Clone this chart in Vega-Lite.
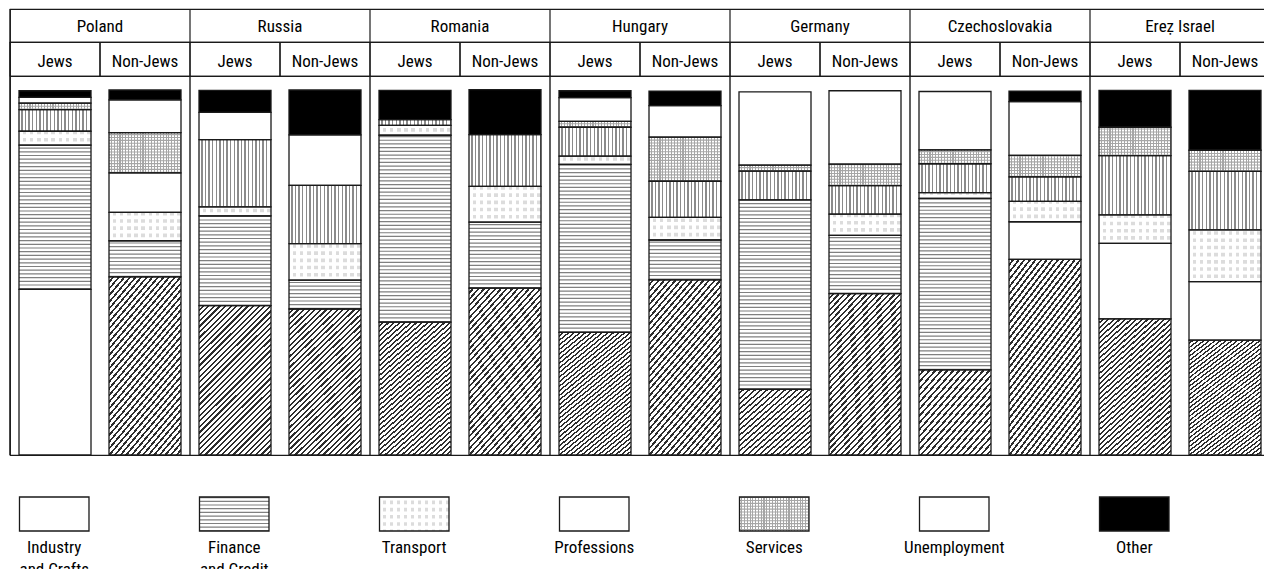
{
"$schema": "https://vega.github.io/schema/vega-lite/v6.json",
"padding": {"left": 8, "top": 7, "right": 0, "bottom": 0},
"background": "#ffffff",
"spacing": 5,
"datasets": {
"countries": [{"country":"Poland"},{"country":"Russia"},{"country":"Romania"},{"country":"Hungary"},{"country":"Germany"},{"country":"Czechoslovakia"},{"country":"Ereẓ Israel"}],
"groups": [
{"country":"Poland","group":"Jews"},{"country":"Poland","group":"Non-Jews"},
{"country":"Russia","group":"Jews"},{"country":"Russia","group":"Non-Jews"},
{"country":"Romania","group":"Jews"},{"country":"Romania","group":"Non-Jews"},
{"country":"Hungary","group":"Jews"},{"country":"Hungary","group":"Non-Jews"},
{"country":"Germany","group":"Jews"},{"country":"Germany","group":"Non-Jews"},
{"country":"Czechoslovakia","group":"Jews"},{"country":"Czechoslovakia","group":"Non-Jews"},
{"country":"Ereẓ Israel","group":"Jews"},{"country":"Ereẓ Israel","group":"Non-Jews"}],
"legend": [{"category":"Industry and Crafts"},{"category":"Finance and Credit"},{"category":"Transport"},{"category":"Professions"},{"category":"Services"},{"category":"Unemployment"},{"category":"Other"}],
"occ": [
{"country":"Poland","group":"Jews","category":"Industry and Crafts","value":45.4},
{"country":"Poland","group":"Jews","category":"Finance and Credit","value":39.5},
{"country":"Poland","group":"Jews","category":"Transport","value":3.8},
{"country":"Poland","group":"Jews","category":"Professions","value":5.9},
{"country":"Poland","group":"Jews","category":"Services","value":1.8},
{"country":"Poland","group":"Jews","category":"Unemployment","value":1.6},
{"country":"Poland","group":"Jews","category":"Other","value":1.8},
{"country":"Poland","group":"Non-Jews","category":"Industry and Crafts","value":48.8},
{"country":"Poland","group":"Non-Jews","category":"Finance and Credit","value":9.9},
{"country":"Poland","group":"Non-Jews","category":"Transport","value":7.8},
{"country":"Poland","group":"Non-Jews","category":"Professions","value":10.8},
{"country":"Poland","group":"Non-Jews","category":"Services","value":11.0},
{"country":"Poland","group":"Non-Jews","category":"Unemployment","value":9.0},
{"country":"Poland","group":"Non-Jews","category":"Other","value":2.7},
{"country":"Russia","group":"Jews","category":"Industry and Crafts","value":40.9},
{"country":"Russia","group":"Jews","category":"Finance and Credit","value":24.6},
{"country":"Russia","group":"Jews","category":"Transport","value":2.5},
{"country":"Russia","group":"Jews","category":"Professions","value":18.4},
{"country":"Russia","group":"Jews","category":"Unemployment","value":7.5},
{"country":"Russia","group":"Jews","category":"Other","value":6.0},
{"country":"Russia","group":"Non-Jews","category":"Industry and Crafts","value":40.0},
{"country":"Russia","group":"Non-Jews","category":"Finance and Credit","value":7.9},
{"country":"Russia","group":"Non-Jews","category":"Transport","value":10.0},
{"country":"Russia","group":"Non-Jews","category":"Professions","value":16.0},
{"country":"Russia","group":"Non-Jews","category":"Unemployment","value":13.8},
{"country":"Russia","group":"Non-Jews","category":"Other","value":12.3},
{"country":"Romania","group":"Jews","category":"Industry and Crafts","value":36.4},
{"country":"Romania","group":"Jews","category":"Finance and Credit","value":51.2},
{"country":"Romania","group":"Jews","category":"Transport","value":2.7},
{"country":"Romania","group":"Jews","category":"Professions","value":1.6},
{"country":"Romania","group":"Jews","category":"Other","value":8.0},
{"country":"Romania","group":"Non-Jews","category":"Industry and Crafts","value":45.7},
{"country":"Romania","group":"Non-Jews","category":"Finance and Credit","value":18.1},
{"country":"Romania","group":"Non-Jews","category":"Transport","value":9.8},
{"country":"Romania","group":"Non-Jews","category":"Professions","value":14.2},
{"country":"Romania","group":"Non-Jews","category":"Other","value":12.3},
{"country":"Hungary","group":"Jews","category":"Industry and Crafts","value":33.6},
{"country":"Hungary","group":"Jews","category":"Finance and Credit","value":46.0},
{"country":"Hungary","group":"Jews","category":"Transport","value":2.3},
{"country":"Hungary","group":"Jews","category":"Professions","value":7.9},
{"country":"Hungary","group":"Jews","category":"Services","value":1.6},
{"country":"Hungary","group":"Jews","category":"Unemployment","value":6.5},
{"country":"Hungary","group":"Jews","category":"Other","value":1.9},
{"country":"Hungary","group":"Non-Jews","category":"Industry and Crafts","value":48.0},
{"country":"Hungary","group":"Non-Jews","category":"Finance and Credit","value":10.9},
{"country":"Hungary","group":"Non-Jews","category":"Transport","value":6.2},
{"country":"Hungary","group":"Non-Jews","category":"Professions","value":9.9},
{"country":"Hungary","group":"Non-Jews","category":"Services","value":12.1},
{"country":"Hungary","group":"Non-Jews","category":"Unemployment","value":8.6},
{"country":"Hungary","group":"Non-Jews","category":"Other","value":4.0},
{"country":"Germany","group":"Jews","category":"Industry and Crafts","value":18.0},
{"country":"Germany","group":"Jews","category":"Finance and Credit","value":51.9},
{"country":"Germany","group":"Jews","category":"Professions","value":7.9},
{"country":"Germany","group":"Jews","category":"Services","value":1.6},
{"country":"Germany","group":"Jews","category":"Unemployment","value":20.1},
{"country":"Germany","group":"Non-Jews","category":"Industry and Crafts","value":44.2},
{"country":"Germany","group":"Non-Jews","category":"Finance and Credit","value":16.0},
{"country":"Germany","group":"Non-Jews","category":"Transport","value":5.8},
{"country":"Germany","group":"Non-Jews","category":"Professions","value":7.8},
{"country":"Germany","group":"Non-Jews","category":"Services","value":5.9},
{"country":"Germany","group":"Non-Jews","category":"Unemployment","value":20.1},
{"country":"Czechoslovakia","group":"Jews","category":"Industry and Crafts","value":23.3},
{"country":"Czechoslovakia","group":"Jews","category":"Finance and Credit","value":47.0},
{"country":"Czechoslovakia","group":"Jews","category":"Transport","value":1.6},
{"country":"Czechoslovakia","group":"Jews","category":"Professions","value":7.9},
{"country":"Czechoslovakia","group":"Jews","category":"Services","value":3.8},
{"country":"Czechoslovakia","group":"Jews","category":"Unemployment","value":16.0},
{"country":"Czechoslovakia","group":"Non-Jews","category":"Industry and Crafts","value":53.6},
{"country":"Czechoslovakia","group":"Non-Jews","category":"Finance and Credit","value":10.3},
{"country":"Czechoslovakia","group":"Non-Jews","category":"Transport","value":5.6},
{"country":"Czechoslovakia","group":"Non-Jews","category":"Professions","value":6.7},
{"country":"Czechoslovakia","group":"Non-Jews","category":"Services","value":5.9},
{"country":"Czechoslovakia","group":"Non-Jews","category":"Unemployment","value":14.7},
{"country":"Czechoslovakia","group":"Non-Jews","category":"Other","value":2.9},
{"country":"Ereẓ Israel","group":"Jews","category":"Industry and Crafts","value":37.3},
{"country":"Ereẓ Israel","group":"Jews","category":"Finance and Credit","value":20.7},
{"country":"Ereẓ Israel","group":"Jews","category":"Transport","value":7.8},
{"country":"Ereẓ Israel","group":"Jews","category":"Professions","value":16.2},
{"country":"Ereẓ Israel","group":"Jews","category":"Services","value":7.8},
{"country":"Ereẓ Israel","group":"Jews","category":"Other","value":10.1},
{"country":"Ereẓ Israel","group":"Non-Jews","category":"Industry and Crafts","value":31.5},
{"country":"Ereẓ Israel","group":"Non-Jews","category":"Finance and Credit","value":16.0},
{"country":"Ereẓ Israel","group":"Non-Jews","category":"Transport","value":14.2},
{"country":"Ereẓ Israel","group":"Non-Jews","category":"Professions","value":16.0},
{"country":"Ereẓ Israel","group":"Non-Jews","category":"Services","value":5.8},
{"country":"Ereẓ Israel","group":"Non-Jews","category":"Other","value":16.4}
]
},
"vconcat": [
{
"spacing": 0,
"bounds": "flush",
"vconcat": [
{
"width": 1260, "height": 33,
"data": {"name": "countries"},
"layer": [
{"mark": {"type": "text", "fontSize": 17, "baseline": "middle", "dy": 1, "color": "#000"},
 "encoding": {"x": {"field": "country", "type": "nominal", "scale": {"type": "band", "domain": ["Poland","Russia","Romania","Hungary","Germany","Czechoslovakia","Ereẓ Israel"], "paddingInner": 0, "paddingOuter": 0}, "axis": null}, "text": {"field": "country"}}},
{"mark": {"type": "rule", "stroke": "#1a1a1a", "strokeWidth": 1.2},
 "encoding": {"x": {"field": "country", "type": "nominal", "bandPosition": 0, "scale": {"type": "band", "domain": ["Poland","Russia","Romania","Hungary","Germany","Czechoslovakia","Ereẓ Israel"], "paddingInner": 0, "paddingOuter": 0}, "axis": null}}}
]
},
{
"width": 1260, "height": 34,
"data": {"name": "groups"},
"layer": [
{"mark": {"type": "text", "fontSize": 17, "baseline": "middle", "dy": 2.5, "color": "#000"},
 "encoding": {"x": {"field": "country", "type": "nominal", "scale": {"type": "band", "domain": ["Poland","Russia","Romania","Hungary","Germany","Czechoslovakia","Ereẓ Israel"], "paddingInner": 0, "paddingOuter": 0}, "axis": null},
  "xOffset": {"field": "group", "type": "nominal", "scale": {"domain": ["Jews","Non-Jews"], "paddingInner": 0, "paddingOuter": 0}},
  "text": {"field": "group"}}},
{"mark": {"type": "rule", "stroke": "#1a1a1a", "strokeWidth": 1.2},
 "encoding": {"x": {"field": "country", "type": "nominal", "bandPosition": 0, "scale": {"type": "band", "domain": ["Poland","Russia","Romania","Hungary","Germany","Czechoslovakia","Ereẓ Israel"], "paddingInner": 0, "paddingOuter": 0}, "axis": null}}},
{"mark": {"type": "rule", "stroke": "#1a1a1a", "strokeWidth": 1.2},
 "encoding": {"x": {"field": "country", "type": "nominal", "bandPosition": 0.5, "scale": {"type": "band", "domain": ["Poland","Russia","Romania","Hungary","Germany","Czechoslovakia","Ereẓ Israel"], "paddingInner": 0, "paddingOuter": 0}, "axis": null}}}
]
},
{
"width": 1260, "height": 379,
"layer": [
{"data": {"name": "countries"},
 "mark": {"type": "rule", "stroke": "#1a1a1a", "strokeWidth": 1.4},
 "encoding": {"x": {"field": "country", "type": "nominal", "bandPosition": 0, "scale": {"type": "band", "domain": ["Poland","Russia","Romania","Hungary","Germany","Czechoslovakia","Ereẓ Israel"], "paddingInner": 0, "paddingOuter": 0}, "axis": null}}},
{"data": {"name": "occ"},
 "transform": [{"stack": "value", "groupby": ["country","group"], "as": ["v0","v1"]}],
 "mark": {"type": "bar", "fill": "#ffffff", "width": 72},
 "encoding": {
  "x": {"field": "country", "type": "nominal", "scale": {"type": "band", "domain": ["Poland","Russia","Romania","Hungary","Germany","Czechoslovakia","Ereẓ Israel"], "paddingInner": 0, "paddingOuter": 0}, "axis": null},
  "xOffset": {"field": "group", "type": "nominal", "scale": {"domain": ["Jews","Non-Jews"], "paddingInner": 0, "paddingOuter": 0}},
  "y": {"field": "v0", "type": "quantitative", "scale": {"domain": [0, 103.84], "nice": false, "zero": false}, "axis": null},
  "y2": {"field": "v1"}}},
{"data": {"name": "occ"},
 "transform": [{"stack": "value", "groupby": ["country","group"], "as": ["v0","v1"]}, {"filter": "datum.category === 'Industry and Crafts' && datum.value >= 30 && !(datum.country === 'Poland' && datum.group === 'Jews')"}],
 "mark": {"type": "bar", "width": 72, "fill": {"gradient": "linear", "x1": 0, "y1": 0, "x2": 0.584, "y2": 1.215, "stops": [
{"offset":0,"color":"#fff"},{"offset":0.015,"color":"#fff"},{"offset":0.015,"color":"#2e2e2e"},{"offset":0.025,"color":"#2e2e2e"},
{"offset":0.025,"color":"#fff"},{"offset":0.04,"color":"#fff"},{"offset":0.04,"color":"#2e2e2e"},{"offset":0.05,"color":"#2e2e2e"},
{"offset":0.05,"color":"#fff"},{"offset":0.065,"color":"#fff"},{"offset":0.065,"color":"#2e2e2e"},{"offset":0.075,"color":"#2e2e2e"},
{"offset":0.075,"color":"#fff"},{"offset":0.09,"color":"#fff"},{"offset":0.09,"color":"#2e2e2e"},{"offset":0.1,"color":"#2e2e2e"},
{"offset":0.1,"color":"#fff"},{"offset":0.115,"color":"#fff"},{"offset":0.115,"color":"#2e2e2e"},{"offset":0.125,"color":"#2e2e2e"},
{"offset":0.125,"color":"#fff"},{"offset":0.14,"color":"#fff"},{"offset":0.14,"color":"#2e2e2e"},{"offset":0.15,"color":"#2e2e2e"},
{"offset":0.15,"color":"#fff"},{"offset":0.165,"color":"#fff"},{"offset":0.165,"color":"#2e2e2e"},{"offset":0.175,"color":"#2e2e2e"},
{"offset":0.175,"color":"#fff"},{"offset":0.19,"color":"#fff"},{"offset":0.19,"color":"#2e2e2e"},{"offset":0.2,"color":"#2e2e2e"},
{"offset":0.2,"color":"#fff"},{"offset":0.215,"color":"#fff"},{"offset":0.215,"color":"#2e2e2e"},{"offset":0.225,"color":"#2e2e2e"},
{"offset":0.225,"color":"#fff"},{"offset":0.24,"color":"#fff"},{"offset":0.24,"color":"#2e2e2e"},{"offset":0.25,"color":"#2e2e2e"},
{"offset":0.25,"color":"#fff"},{"offset":0.265,"color":"#fff"},{"offset":0.265,"color":"#2e2e2e"},{"offset":0.275,"color":"#2e2e2e"},
{"offset":0.275,"color":"#fff"},{"offset":0.29,"color":"#fff"},{"offset":0.29,"color":"#2e2e2e"},{"offset":0.3,"color":"#2e2e2e"},
{"offset":0.3,"color":"#fff"},{"offset":0.315,"color":"#fff"},{"offset":0.315,"color":"#2e2e2e"},{"offset":0.325,"color":"#2e2e2e"},
{"offset":0.325,"color":"#fff"},{"offset":0.34,"color":"#fff"},{"offset":0.34,"color":"#2e2e2e"},{"offset":0.35,"color":"#2e2e2e"},
{"offset":0.35,"color":"#fff"},{"offset":0.365,"color":"#fff"},{"offset":0.365,"color":"#2e2e2e"},{"offset":0.375,"color":"#2e2e2e"},
{"offset":0.375,"color":"#fff"},{"offset":0.39,"color":"#fff"},{"offset":0.39,"color":"#2e2e2e"},{"offset":0.4,"color":"#2e2e2e"},
{"offset":0.4,"color":"#fff"},{"offset":0.415,"color":"#fff"},{"offset":0.415,"color":"#2e2e2e"},{"offset":0.425,"color":"#2e2e2e"},
{"offset":0.425,"color":"#fff"},{"offset":0.44,"color":"#fff"},{"offset":0.44,"color":"#2e2e2e"},{"offset":0.45,"color":"#2e2e2e"},
{"offset":0.45,"color":"#fff"},{"offset":0.465,"color":"#fff"},{"offset":0.465,"color":"#2e2e2e"},{"offset":0.475,"color":"#2e2e2e"},
{"offset":0.475,"color":"#fff"},{"offset":0.49,"color":"#fff"},{"offset":0.49,"color":"#2e2e2e"},{"offset":0.5,"color":"#2e2e2e"},
{"offset":0.5,"color":"#fff"},{"offset":0.515,"color":"#fff"},{"offset":0.515,"color":"#2e2e2e"},{"offset":0.525,"color":"#2e2e2e"},
{"offset":0.525,"color":"#fff"},{"offset":0.54,"color":"#fff"},{"offset":0.54,"color":"#2e2e2e"},{"offset":0.55,"color":"#2e2e2e"},
{"offset":0.55,"color":"#fff"},{"offset":0.565,"color":"#fff"},{"offset":0.565,"color":"#2e2e2e"},{"offset":0.575,"color":"#2e2e2e"},
{"offset":0.575,"color":"#fff"},{"offset":0.59,"color":"#fff"},{"offset":0.59,"color":"#2e2e2e"},{"offset":0.6,"color":"#2e2e2e"},
{"offset":0.6,"color":"#fff"},{"offset":0.615,"color":"#fff"},{"offset":0.615,"color":"#2e2e2e"},{"offset":0.625,"color":"#2e2e2e"},
{"offset":0.625,"color":"#fff"},{"offset":0.64,"color":"#fff"},{"offset":0.64,"color":"#2e2e2e"},{"offset":0.65,"color":"#2e2e2e"},
{"offset":0.65,"color":"#fff"},{"offset":0.665,"color":"#fff"},{"offset":0.665,"color":"#2e2e2e"},{"offset":0.675,"color":"#2e2e2e"},
{"offset":0.675,"color":"#fff"},{"offset":0.69,"color":"#fff"},{"offset":0.69,"color":"#2e2e2e"},{"offset":0.7,"color":"#2e2e2e"},
{"offset":0.7,"color":"#fff"},{"offset":0.715,"color":"#fff"},{"offset":0.715,"color":"#2e2e2e"},{"offset":0.725,"color":"#2e2e2e"},
{"offset":0.725,"color":"#fff"},{"offset":0.74,"color":"#fff"},{"offset":0.74,"color":"#2e2e2e"},{"offset":0.75,"color":"#2e2e2e"},
{"offset":0.75,"color":"#fff"},{"offset":0.765,"color":"#fff"},{"offset":0.765,"color":"#2e2e2e"},{"offset":0.775,"color":"#2e2e2e"},
{"offset":0.775,"color":"#fff"},{"offset":0.79,"color":"#fff"},{"offset":0.79,"color":"#2e2e2e"},{"offset":0.8,"color":"#2e2e2e"},
{"offset":0.8,"color":"#fff"},{"offset":0.815,"color":"#fff"},{"offset":0.815,"color":"#2e2e2e"},{"offset":0.825,"color":"#2e2e2e"},
{"offset":0.825,"color":"#fff"},{"offset":0.84,"color":"#fff"},{"offset":0.84,"color":"#2e2e2e"},{"offset":0.85,"color":"#2e2e2e"},
{"offset":0.85,"color":"#fff"},{"offset":0.865,"color":"#fff"},{"offset":0.865,"color":"#2e2e2e"},{"offset":0.875,"color":"#2e2e2e"},
{"offset":0.875,"color":"#fff"},{"offset":0.89,"color":"#fff"},{"offset":0.89,"color":"#2e2e2e"},{"offset":0.9,"color":"#2e2e2e"},
{"offset":0.9,"color":"#fff"},{"offset":0.915,"color":"#fff"},{"offset":0.915,"color":"#2e2e2e"},{"offset":0.925,"color":"#2e2e2e"},
{"offset":0.925,"color":"#fff"},{"offset":0.94,"color":"#fff"},{"offset":0.94,"color":"#2e2e2e"},{"offset":0.95,"color":"#2e2e2e"},
{"offset":0.95,"color":"#fff"},{"offset":0.965,"color":"#fff"},{"offset":0.965,"color":"#2e2e2e"},{"offset":0.975,"color":"#2e2e2e"},
{"offset":0.975,"color":"#fff"},{"offset":0.99,"color":"#fff"},{"offset":0.99,"color":"#2e2e2e"},{"offset":1,"color":"#2e2e2e"}
]}},
 "encoding": {
  "x": {"field": "country", "type": "nominal", "scale": {"type": "band", "domain": ["Poland","Russia","Romania","Hungary","Germany","Czechoslovakia","Ereẓ Israel"], "paddingInner": 0, "paddingOuter": 0}, "axis": null},
  "xOffset": {"field": "group", "type": "nominal", "scale": {"domain": ["Jews","Non-Jews"], "paddingInner": 0, "paddingOuter": 0}},
  "y": {"field": "v0", "type": "quantitative", "scale": {"domain": [0, 103.84], "nice": false, "zero": false}, "axis": null},
  "y2": {"field": "v1"}}},
{"data": {"name": "occ"},
 "transform": [{"stack": "value", "groupby": ["country","group"], "as": ["v0","v1"]}, {"filter": "datum.category === 'Industry and Crafts' && datum.value < 30"}],
 "mark": {"type": "bar", "width": 72, "fill": {"gradient": "linear", "x1": 0, "y1": 0, "x2": 1, "y2": 1.04, "stops": [
{"offset":0,"color":"#fff"},{"offset":0.025,"color":"#fff"},{"offset":0.025,"color":"#2e2e2e"},{"offset":0.04,"color":"#2e2e2e"},
{"offset":0.04,"color":"#fff"},{"offset":0.065,"color":"#fff"},{"offset":0.065,"color":"#2e2e2e"},{"offset":0.08,"color":"#2e2e2e"},
{"offset":0.08,"color":"#fff"},{"offset":0.105,"color":"#fff"},{"offset":0.105,"color":"#2e2e2e"},{"offset":0.12,"color":"#2e2e2e"},
{"offset":0.12,"color":"#fff"},{"offset":0.145,"color":"#fff"},{"offset":0.145,"color":"#2e2e2e"},{"offset":0.16,"color":"#2e2e2e"},
{"offset":0.16,"color":"#fff"},{"offset":0.185,"color":"#fff"},{"offset":0.185,"color":"#2e2e2e"},{"offset":0.2,"color":"#2e2e2e"},
{"offset":0.2,"color":"#fff"},{"offset":0.225,"color":"#fff"},{"offset":0.225,"color":"#2e2e2e"},{"offset":0.24,"color":"#2e2e2e"},
{"offset":0.24,"color":"#fff"},{"offset":0.265,"color":"#fff"},{"offset":0.265,"color":"#2e2e2e"},{"offset":0.28,"color":"#2e2e2e"},
{"offset":0.28,"color":"#fff"},{"offset":0.305,"color":"#fff"},{"offset":0.305,"color":"#2e2e2e"},{"offset":0.32,"color":"#2e2e2e"},
{"offset":0.32,"color":"#fff"},{"offset":0.345,"color":"#fff"},{"offset":0.345,"color":"#2e2e2e"},{"offset":0.36,"color":"#2e2e2e"},
{"offset":0.36,"color":"#fff"},{"offset":0.385,"color":"#fff"},{"offset":0.385,"color":"#2e2e2e"},{"offset":0.4,"color":"#2e2e2e"},
{"offset":0.4,"color":"#fff"},{"offset":0.425,"color":"#fff"},{"offset":0.425,"color":"#2e2e2e"},{"offset":0.44,"color":"#2e2e2e"},
{"offset":0.44,"color":"#fff"},{"offset":0.465,"color":"#fff"},{"offset":0.465,"color":"#2e2e2e"},{"offset":0.48,"color":"#2e2e2e"},
{"offset":0.48,"color":"#fff"},{"offset":0.505,"color":"#fff"},{"offset":0.505,"color":"#2e2e2e"},{"offset":0.52,"color":"#2e2e2e"},
{"offset":0.52,"color":"#fff"},{"offset":0.545,"color":"#fff"},{"offset":0.545,"color":"#2e2e2e"},{"offset":0.56,"color":"#2e2e2e"},
{"offset":0.56,"color":"#fff"},{"offset":0.585,"color":"#fff"},{"offset":0.585,"color":"#2e2e2e"},{"offset":0.6,"color":"#2e2e2e"},
{"offset":0.6,"color":"#fff"},{"offset":0.625,"color":"#fff"},{"offset":0.625,"color":"#2e2e2e"},{"offset":0.64,"color":"#2e2e2e"},
{"offset":0.64,"color":"#fff"},{"offset":0.665,"color":"#fff"},{"offset":0.665,"color":"#2e2e2e"},{"offset":0.68,"color":"#2e2e2e"},
{"offset":0.68,"color":"#fff"},{"offset":0.705,"color":"#fff"},{"offset":0.705,"color":"#2e2e2e"},{"offset":0.72,"color":"#2e2e2e"},
{"offset":0.72,"color":"#fff"},{"offset":0.745,"color":"#fff"},{"offset":0.745,"color":"#2e2e2e"},{"offset":0.76,"color":"#2e2e2e"},
{"offset":0.76,"color":"#fff"},{"offset":0.785,"color":"#fff"},{"offset":0.785,"color":"#2e2e2e"},{"offset":0.8,"color":"#2e2e2e"},
{"offset":0.8,"color":"#fff"},{"offset":0.825,"color":"#fff"},{"offset":0.825,"color":"#2e2e2e"},{"offset":0.84,"color":"#2e2e2e"},
{"offset":0.84,"color":"#fff"},{"offset":0.865,"color":"#fff"},{"offset":0.865,"color":"#2e2e2e"},{"offset":0.88,"color":"#2e2e2e"},
{"offset":0.88,"color":"#fff"},{"offset":0.905,"color":"#fff"},{"offset":0.905,"color":"#2e2e2e"},{"offset":0.92,"color":"#2e2e2e"},
{"offset":0.92,"color":"#fff"},{"offset":0.945,"color":"#fff"},{"offset":0.945,"color":"#2e2e2e"},{"offset":0.96,"color":"#2e2e2e"},
{"offset":0.96,"color":"#fff"},{"offset":0.985,"color":"#fff"},{"offset":0.985,"color":"#2e2e2e"},{"offset":1,"color":"#2e2e2e"}
]}},
 "encoding": {
  "x": {"field": "country", "type": "nominal", "scale": {"type": "band", "domain": ["Poland","Russia","Romania","Hungary","Germany","Czechoslovakia","Ereẓ Israel"], "paddingInner": 0, "paddingOuter": 0}, "axis": null},
  "xOffset": {"field": "group", "type": "nominal", "scale": {"domain": ["Jews","Non-Jews"], "paddingInner": 0, "paddingOuter": 0}},
  "y": {"field": "v0", "type": "quantitative", "scale": {"domain": [0, 103.84], "nice": false, "zero": false}, "axis": null},
  "y2": {"field": "v1"}}},
{"data": {"name": "occ"},
 "transform": [{"stack": "value", "groupby": ["country","group"], "as": ["v0","v1"]}, {"filter": "datum.category === 'Professions' && !(datum.country === 'Poland' && datum.group === 'Non-Jews')"}],
 "mark": {"type": "bar", "width": 72, "fill": {"gradient": "linear", "x1": 0, "y1": 0, "x2": 1, "y2": 0, "stops": [
{"offset":0,"color":"#fff"},{"offset":0.03,"color":"#fff"},{"offset":0.03,"color":"#8a8a8a"},{"offset":0.05,"color":"#8a8a8a"},
{"offset":0.05,"color":"#fff"},{"offset":0.08,"color":"#fff"},{"offset":0.08,"color":"#8a8a8a"},{"offset":0.1,"color":"#8a8a8a"},
{"offset":0.1,"color":"#fff"},{"offset":0.13,"color":"#fff"},{"offset":0.13,"color":"#8a8a8a"},{"offset":0.15,"color":"#8a8a8a"},
{"offset":0.15,"color":"#fff"},{"offset":0.18,"color":"#fff"},{"offset":0.18,"color":"#8a8a8a"},{"offset":0.2,"color":"#8a8a8a"},
{"offset":0.2,"color":"#fff"},{"offset":0.23,"color":"#fff"},{"offset":0.23,"color":"#8a8a8a"},{"offset":0.25,"color":"#8a8a8a"},
{"offset":0.25,"color":"#fff"},{"offset":0.28,"color":"#fff"},{"offset":0.28,"color":"#8a8a8a"},{"offset":0.3,"color":"#8a8a8a"},
{"offset":0.3,"color":"#fff"},{"offset":0.33,"color":"#fff"},{"offset":0.33,"color":"#8a8a8a"},{"offset":0.35,"color":"#8a8a8a"},
{"offset":0.35,"color":"#fff"},{"offset":0.38,"color":"#fff"},{"offset":0.38,"color":"#8a8a8a"},{"offset":0.4,"color":"#8a8a8a"},
{"offset":0.4,"color":"#fff"},{"offset":0.43,"color":"#fff"},{"offset":0.43,"color":"#8a8a8a"},{"offset":0.45,"color":"#8a8a8a"},
{"offset":0.45,"color":"#fff"},{"offset":0.48,"color":"#fff"},{"offset":0.48,"color":"#8a8a8a"},{"offset":0.5,"color":"#8a8a8a"},
{"offset":0.5,"color":"#fff"},{"offset":0.53,"color":"#fff"},{"offset":0.53,"color":"#8a8a8a"},{"offset":0.55,"color":"#8a8a8a"},
{"offset":0.55,"color":"#fff"},{"offset":0.58,"color":"#fff"},{"offset":0.58,"color":"#8a8a8a"},{"offset":0.6,"color":"#8a8a8a"},
{"offset":0.6,"color":"#fff"},{"offset":0.63,"color":"#fff"},{"offset":0.63,"color":"#8a8a8a"},{"offset":0.65,"color":"#8a8a8a"},
{"offset":0.65,"color":"#fff"},{"offset":0.68,"color":"#fff"},{"offset":0.68,"color":"#8a8a8a"},{"offset":0.7,"color":"#8a8a8a"},
{"offset":0.7,"color":"#fff"},{"offset":0.73,"color":"#fff"},{"offset":0.73,"color":"#8a8a8a"},{"offset":0.75,"color":"#8a8a8a"},
{"offset":0.75,"color":"#fff"},{"offset":0.78,"color":"#fff"},{"offset":0.78,"color":"#8a8a8a"},{"offset":0.8,"color":"#8a8a8a"},
{"offset":0.8,"color":"#fff"},{"offset":0.83,"color":"#fff"},{"offset":0.83,"color":"#8a8a8a"},{"offset":0.85,"color":"#8a8a8a"},
{"offset":0.85,"color":"#fff"},{"offset":0.88,"color":"#fff"},{"offset":0.88,"color":"#8a8a8a"},{"offset":0.9,"color":"#8a8a8a"},
{"offset":0.9,"color":"#fff"},{"offset":0.93,"color":"#fff"},{"offset":0.93,"color":"#8a8a8a"},{"offset":0.95,"color":"#8a8a8a"},
{"offset":0.95,"color":"#fff"},{"offset":0.98,"color":"#fff"},{"offset":0.98,"color":"#8a8a8a"},{"offset":1,"color":"#8a8a8a"}
]}},
 "encoding": {
  "x": {"field": "country", "type": "nominal", "scale": {"type": "band", "domain": ["Poland","Russia","Romania","Hungary","Germany","Czechoslovakia","Ereẓ Israel"], "paddingInner": 0, "paddingOuter": 0}, "axis": null},
  "xOffset": {"field": "group", "type": "nominal", "scale": {"domain": ["Jews","Non-Jews"], "paddingInner": 0, "paddingOuter": 0}},
  "y": {"field": "v0", "type": "quantitative", "scale": {"domain": [0, 103.84], "nice": false, "zero": false}, "axis": null},
  "y2": {"field": "v1"}}},
{"data": {"name": "occ"},
 "transform": [{"stack": "value", "groupby": ["country","group"], "as": ["v0","v1"]}, {"filter": "datum.category === 'Transport'"}],
 "mark": {"type": "bar", "width": 72, "fill": {"gradient": "linear", "x1": 0, "y1": 0, "x2": 1, "y2": 0, "stops": [
{"offset":0,"color":"#fff"},{"offset":0.05,"color":"#fff"},{"offset":0.05,"color":"#dcdcdc"},{"offset":0.1,"color":"#dcdcdc"},
{"offset":0.1,"color":"#fff"},{"offset":0.15,"color":"#fff"},{"offset":0.15,"color":"#dcdcdc"},{"offset":0.2,"color":"#dcdcdc"},
{"offset":0.2,"color":"#fff"},{"offset":0.25,"color":"#fff"},{"offset":0.25,"color":"#dcdcdc"},{"offset":0.3,"color":"#dcdcdc"},
{"offset":0.3,"color":"#fff"},{"offset":0.35,"color":"#fff"},{"offset":0.35,"color":"#dcdcdc"},{"offset":0.4,"color":"#dcdcdc"},
{"offset":0.4,"color":"#fff"},{"offset":0.45,"color":"#fff"},{"offset":0.45,"color":"#dcdcdc"},{"offset":0.5,"color":"#dcdcdc"},
{"offset":0.5,"color":"#fff"},{"offset":0.55,"color":"#fff"},{"offset":0.55,"color":"#dcdcdc"},{"offset":0.6,"color":"#dcdcdc"},
{"offset":0.6,"color":"#fff"},{"offset":0.65,"color":"#fff"},{"offset":0.65,"color":"#dcdcdc"},{"offset":0.7,"color":"#dcdcdc"},
{"offset":0.7,"color":"#fff"},{"offset":0.75,"color":"#fff"},{"offset":0.75,"color":"#dcdcdc"},{"offset":0.8,"color":"#dcdcdc"},
{"offset":0.8,"color":"#fff"},{"offset":0.85,"color":"#fff"},{"offset":0.85,"color":"#dcdcdc"},{"offset":0.9,"color":"#dcdcdc"},
{"offset":0.9,"color":"#fff"},{"offset":0.95,"color":"#fff"},{"offset":0.95,"color":"#dcdcdc"},{"offset":1,"color":"#dcdcdc"}
]}},
 "encoding": {
  "x": {"field": "country", "type": "nominal", "scale": {"type": "band", "domain": ["Poland","Russia","Romania","Hungary","Germany","Czechoslovakia","Ereẓ Israel"], "paddingInner": 0, "paddingOuter": 0}, "axis": null},
  "xOffset": {"field": "group", "type": "nominal", "scale": {"domain": ["Jews","Non-Jews"], "paddingInner": 0, "paddingOuter": 0}},
  "y": {"field": "v0", "type": "quantitative", "scale": {"domain": [0, 103.84], "nice": false, "zero": false}, "axis": null},
  "y2": {"field": "v1"}}},
{"data": {"name": "occ"},
 "transform": [{"stack": "value", "groupby": ["country","group"], "as": ["v0","v1"]}, {"filter": "datum.category === 'Services'"}],
 "mark": {"type": "bar", "width": 72, "fill": {"gradient": "linear", "x1": 0, "y1": 0, "x2": 1, "y2": 0, "stops": [
{"offset":0,"color":"#fff"},{"offset":0.025,"color":"#fff"},{"offset":0.025,"color":"#a6a6a6"},{"offset":0.04,"color":"#a6a6a6"},
{"offset":0.04,"color":"#fff"},{"offset":0.065,"color":"#fff"},{"offset":0.065,"color":"#a6a6a6"},{"offset":0.08,"color":"#a6a6a6"},
{"offset":0.08,"color":"#fff"},{"offset":0.105,"color":"#fff"},{"offset":0.105,"color":"#a6a6a6"},{"offset":0.12,"color":"#a6a6a6"},
{"offset":0.12,"color":"#fff"},{"offset":0.145,"color":"#fff"},{"offset":0.145,"color":"#a6a6a6"},{"offset":0.16,"color":"#a6a6a6"},
{"offset":0.16,"color":"#fff"},{"offset":0.185,"color":"#fff"},{"offset":0.185,"color":"#a6a6a6"},{"offset":0.2,"color":"#a6a6a6"},
{"offset":0.2,"color":"#fff"},{"offset":0.225,"color":"#fff"},{"offset":0.225,"color":"#a6a6a6"},{"offset":0.24,"color":"#a6a6a6"},
{"offset":0.24,"color":"#fff"},{"offset":0.265,"color":"#fff"},{"offset":0.265,"color":"#a6a6a6"},{"offset":0.28,"color":"#a6a6a6"},
{"offset":0.28,"color":"#fff"},{"offset":0.305,"color":"#fff"},{"offset":0.305,"color":"#a6a6a6"},{"offset":0.32,"color":"#a6a6a6"},
{"offset":0.32,"color":"#fff"},{"offset":0.345,"color":"#fff"},{"offset":0.345,"color":"#a6a6a6"},{"offset":0.36,"color":"#a6a6a6"},
{"offset":0.36,"color":"#fff"},{"offset":0.385,"color":"#fff"},{"offset":0.385,"color":"#a6a6a6"},{"offset":0.4,"color":"#a6a6a6"},
{"offset":0.4,"color":"#fff"},{"offset":0.425,"color":"#fff"},{"offset":0.425,"color":"#a6a6a6"},{"offset":0.44,"color":"#a6a6a6"},
{"offset":0.44,"color":"#fff"},{"offset":0.465,"color":"#fff"},{"offset":0.465,"color":"#a6a6a6"},{"offset":0.48,"color":"#a6a6a6"},
{"offset":0.48,"color":"#fff"},{"offset":0.505,"color":"#fff"},{"offset":0.505,"color":"#a6a6a6"},{"offset":0.52,"color":"#a6a6a6"},
{"offset":0.52,"color":"#fff"},{"offset":0.545,"color":"#fff"},{"offset":0.545,"color":"#a6a6a6"},{"offset":0.56,"color":"#a6a6a6"},
{"offset":0.56,"color":"#fff"},{"offset":0.585,"color":"#fff"},{"offset":0.585,"color":"#a6a6a6"},{"offset":0.6,"color":"#a6a6a6"},
{"offset":0.6,"color":"#fff"},{"offset":0.625,"color":"#fff"},{"offset":0.625,"color":"#a6a6a6"},{"offset":0.64,"color":"#a6a6a6"},
{"offset":0.64,"color":"#fff"},{"offset":0.665,"color":"#fff"},{"offset":0.665,"color":"#a6a6a6"},{"offset":0.68,"color":"#a6a6a6"},
{"offset":0.68,"color":"#fff"},{"offset":0.705,"color":"#fff"},{"offset":0.705,"color":"#a6a6a6"},{"offset":0.72,"color":"#a6a6a6"},
{"offset":0.72,"color":"#fff"},{"offset":0.745,"color":"#fff"},{"offset":0.745,"color":"#a6a6a6"},{"offset":0.76,"color":"#a6a6a6"},
{"offset":0.76,"color":"#fff"},{"offset":0.785,"color":"#fff"},{"offset":0.785,"color":"#a6a6a6"},{"offset":0.8,"color":"#a6a6a6"},
{"offset":0.8,"color":"#fff"},{"offset":0.825,"color":"#fff"},{"offset":0.825,"color":"#a6a6a6"},{"offset":0.84,"color":"#a6a6a6"},
{"offset":0.84,"color":"#fff"},{"offset":0.865,"color":"#fff"},{"offset":0.865,"color":"#a6a6a6"},{"offset":0.88,"color":"#a6a6a6"},
{"offset":0.88,"color":"#fff"},{"offset":0.905,"color":"#fff"},{"offset":0.905,"color":"#a6a6a6"},{"offset":0.92,"color":"#a6a6a6"},
{"offset":0.92,"color":"#fff"},{"offset":0.945,"color":"#fff"},{"offset":0.945,"color":"#a6a6a6"},{"offset":0.96,"color":"#a6a6a6"},
{"offset":0.96,"color":"#fff"},{"offset":0.985,"color":"#fff"},{"offset":0.985,"color":"#a6a6a6"},{"offset":1,"color":"#a6a6a6"}
]}},
 "encoding": {
  "x": {"field": "country", "type": "nominal", "scale": {"type": "band", "domain": ["Poland","Russia","Romania","Hungary","Germany","Czechoslovakia","Ereẓ Israel"], "paddingInner": 0, "paddingOuter": 0}, "axis": null},
  "xOffset": {"field": "group", "type": "nominal", "scale": {"domain": ["Jews","Non-Jews"], "paddingInner": 0, "paddingOuter": 0}},
  "y": {"field": "v0", "type": "quantitative", "scale": {"domain": [0, 103.84], "nice": false, "zero": false}, "axis": null},
  "y2": {"field": "v1"}}},
{"data": {"name": "occ"},
 "transform": [{"stack": "value", "groupby": ["country","group"], "as": ["v0","v1"]}, {"filter": "datum.category === 'Other'"}],
 "mark": {"type": "bar", "width": 72, "fill": "#000000"},
 "encoding": {
  "x": {"field": "country", "type": "nominal", "scale": {"type": "band", "domain": ["Poland","Russia","Romania","Hungary","Germany","Czechoslovakia","Ereẓ Israel"], "paddingInner": 0, "paddingOuter": 0}, "axis": null},
  "xOffset": {"field": "group", "type": "nominal", "scale": {"domain": ["Jews","Non-Jews"], "paddingInner": 0, "paddingOuter": 0}},
  "y": {"field": "v0", "type": "quantitative", "scale": {"domain": [0, 103.84], "nice": false, "zero": false}, "axis": null},
  "y2": {"field": "v1"}}},
{"data": {"name": "occ"},
 "transform": [{"stack": "value", "groupby": ["country","group"], "as": ["v0","v1"]}, {"filter": "datum.category === 'Finance and Credit' && datum.country !== 'Ereẓ Israel' && !(datum.country === 'Czechoslovakia' && datum.group === 'Non-Jews')"}],
 "mark": {"type": "rule", "stroke": "#808080", "strokeWidth": 72, "strokeDash": [1.2, 2.5], "strokeCap": "butt"},
 "encoding": {
  "x": {"field": "country", "type": "nominal", "scale": {"type": "band", "domain": ["Poland","Russia","Romania","Hungary","Germany","Czechoslovakia","Ereẓ Israel"], "paddingInner": 0, "paddingOuter": 0}, "axis": null},
  "xOffset": {"field": "group", "type": "nominal", "scale": {"domain": ["Jews","Non-Jews"], "paddingInner": 0, "paddingOuter": 0}},
  "y": {"field": "v0", "type": "quantitative", "scale": {"domain": [0, 103.84], "nice": false, "zero": false}, "axis": null},
  "y2": {"field": "v1"}}},
{"data": {"name": "occ"},
 "transform": [{"stack": "value", "groupby": ["country","group"], "as": ["v0","v1"]}, {"filter": "datum.category === 'Transport'"}],
 "mark": {"type": "rule", "stroke": "#ffffff", "strokeWidth": 72, "strokeDash": [3.6, 3.6], "strokeCap": "butt"},
 "encoding": {
  "x": {"field": "country", "type": "nominal", "scale": {"type": "band", "domain": ["Poland","Russia","Romania","Hungary","Germany","Czechoslovakia","Ereẓ Israel"], "paddingInner": 0, "paddingOuter": 0}, "axis": null},
  "xOffset": {"field": "group", "type": "nominal", "scale": {"domain": ["Jews","Non-Jews"], "paddingInner": 0, "paddingOuter": 0}},
  "y": {"field": "v0", "type": "quantitative", "scale": {"domain": [0, 103.84], "nice": false, "zero": false}, "axis": null},
  "y2": {"field": "v1"}}},
{"data": {"name": "occ"},
 "transform": [{"stack": "value", "groupby": ["country","group"], "as": ["v0","v1"]}, {"filter": "datum.category === 'Services'"}],
 "mark": {"type": "rule", "stroke": "#a6a6a6", "strokeWidth": 72, "strokeDash": [1.1, 1.8], "strokeCap": "butt"},
 "encoding": {
  "x": {"field": "country", "type": "nominal", "scale": {"type": "band", "domain": ["Poland","Russia","Romania","Hungary","Germany","Czechoslovakia","Ereẓ Israel"], "paddingInner": 0, "paddingOuter": 0}, "axis": null},
  "xOffset": {"field": "group", "type": "nominal", "scale": {"domain": ["Jews","Non-Jews"], "paddingInner": 0, "paddingOuter": 0}},
  "y": {"field": "v0", "type": "quantitative", "scale": {"domain": [0, 103.84], "nice": false, "zero": false}, "axis": null},
  "y2": {"field": "v1"}}},
{"data": {"name": "occ"},
 "transform": [{"stack": "value", "groupby": ["country","group"], "as": ["v0","v1"]}],
 "mark": {"type": "bar", "width": 72, "filled": false, "color": "#1a1a1a", "strokeWidth": 1.3},
 "encoding": {
  "x": {"field": "country", "type": "nominal", "scale": {"type": "band", "domain": ["Poland","Russia","Romania","Hungary","Germany","Czechoslovakia","Ereẓ Israel"], "paddingInner": 0, "paddingOuter": 0}, "axis": null},
  "xOffset": {"field": "group", "type": "nominal", "scale": {"domain": ["Jews","Non-Jews"], "paddingInner": 0, "paddingOuter": 0}},
  "y": {"field": "v0", "type": "quantitative", "scale": {"domain": [0, 103.84], "nice": false, "zero": false}, "axis": null},
  "y2": {"field": "v1"}}}
]
}
]
},
{
"width": 1260, "height": 34,
"data": {"name": "legend"},
"view": {"stroke": null},
"encoding": {
 "x": {"field": "category", "type": "nominal",
  "scale": {"type": "band", "domain": ["Industry and Crafts","Finance and Credit","Transport","Professions","Services","Unemployment","Other"], "range": [-45.75, 1214.25], "paddingInner": 0.6139, "paddingOuter": 0.3069},
  "axis": {"orient": "bottom", "title": null, "domain": false, "ticks": false, "tickSize": 0, "grid": false, "labelPadding": 8.5, "labelFontSize": 17, "labelColor": "#000", "labelLineHeight": 22, "labelAngle": 0, "labelLimit": 0, "labelOverlap": false, "labelExpr": "split(replace(datum.label, ' and ', '~and '), '~')"}}
},
"layer": [
{"mark": {"type": "rect", "fill": "#ffffff"}},
{"transform": [{"filter": "datum.category === 'Transport'"}],
 "mark": {"type": "rect", "fill": {"gradient": "linear", "x1": 0, "y1": 0, "x2": 1, "y2": 0, "stops": [
{"offset":0,"color":"#fff"},{"offset":0.05,"color":"#fff"},{"offset":0.05,"color":"#dcdcdc"},{"offset":0.1,"color":"#dcdcdc"},
{"offset":0.1,"color":"#fff"},{"offset":0.15,"color":"#fff"},{"offset":0.15,"color":"#dcdcdc"},{"offset":0.2,"color":"#dcdcdc"},
{"offset":0.2,"color":"#fff"},{"offset":0.25,"color":"#fff"},{"offset":0.25,"color":"#dcdcdc"},{"offset":0.3,"color":"#dcdcdc"},
{"offset":0.3,"color":"#fff"},{"offset":0.35,"color":"#fff"},{"offset":0.35,"color":"#dcdcdc"},{"offset":0.4,"color":"#dcdcdc"},
{"offset":0.4,"color":"#fff"},{"offset":0.45,"color":"#fff"},{"offset":0.45,"color":"#dcdcdc"},{"offset":0.5,"color":"#dcdcdc"},
{"offset":0.5,"color":"#fff"},{"offset":0.55,"color":"#fff"},{"offset":0.55,"color":"#dcdcdc"},{"offset":0.6,"color":"#dcdcdc"},
{"offset":0.6,"color":"#fff"},{"offset":0.65,"color":"#fff"},{"offset":0.65,"color":"#dcdcdc"},{"offset":0.7,"color":"#dcdcdc"},
{"offset":0.7,"color":"#fff"},{"offset":0.75,"color":"#fff"},{"offset":0.75,"color":"#dcdcdc"},{"offset":0.8,"color":"#dcdcdc"},
{"offset":0.8,"color":"#fff"},{"offset":0.85,"color":"#fff"},{"offset":0.85,"color":"#dcdcdc"},{"offset":0.9,"color":"#dcdcdc"},
{"offset":0.9,"color":"#fff"},{"offset":0.95,"color":"#fff"},{"offset":0.95,"color":"#dcdcdc"},{"offset":1,"color":"#dcdcdc"}
]}}},
{"transform": [{"filter": "datum.category === 'Services'"}],
 "mark": {"type": "rect", "fill": {"gradient": "linear", "x1": 0, "y1": 0, "x2": 1, "y2": 0, "stops": [
{"offset":0,"color":"#fff"},{"offset":0.025,"color":"#fff"},{"offset":0.025,"color":"#a6a6a6"},{"offset":0.04,"color":"#a6a6a6"},
{"offset":0.04,"color":"#fff"},{"offset":0.065,"color":"#fff"},{"offset":0.065,"color":"#a6a6a6"},{"offset":0.08,"color":"#a6a6a6"},
{"offset":0.08,"color":"#fff"},{"offset":0.105,"color":"#fff"},{"offset":0.105,"color":"#a6a6a6"},{"offset":0.12,"color":"#a6a6a6"},
{"offset":0.12,"color":"#fff"},{"offset":0.145,"color":"#fff"},{"offset":0.145,"color":"#a6a6a6"},{"offset":0.16,"color":"#a6a6a6"},
{"offset":0.16,"color":"#fff"},{"offset":0.185,"color":"#fff"},{"offset":0.185,"color":"#a6a6a6"},{"offset":0.2,"color":"#a6a6a6"},
{"offset":0.2,"color":"#fff"},{"offset":0.225,"color":"#fff"},{"offset":0.225,"color":"#a6a6a6"},{"offset":0.24,"color":"#a6a6a6"},
{"offset":0.24,"color":"#fff"},{"offset":0.265,"color":"#fff"},{"offset":0.265,"color":"#a6a6a6"},{"offset":0.28,"color":"#a6a6a6"},
{"offset":0.28,"color":"#fff"},{"offset":0.305,"color":"#fff"},{"offset":0.305,"color":"#a6a6a6"},{"offset":0.32,"color":"#a6a6a6"},
{"offset":0.32,"color":"#fff"},{"offset":0.345,"color":"#fff"},{"offset":0.345,"color":"#a6a6a6"},{"offset":0.36,"color":"#a6a6a6"},
{"offset":0.36,"color":"#fff"},{"offset":0.385,"color":"#fff"},{"offset":0.385,"color":"#a6a6a6"},{"offset":0.4,"color":"#a6a6a6"},
{"offset":0.4,"color":"#fff"},{"offset":0.425,"color":"#fff"},{"offset":0.425,"color":"#a6a6a6"},{"offset":0.44,"color":"#a6a6a6"},
{"offset":0.44,"color":"#fff"},{"offset":0.465,"color":"#fff"},{"offset":0.465,"color":"#a6a6a6"},{"offset":0.48,"color":"#a6a6a6"},
{"offset":0.48,"color":"#fff"},{"offset":0.505,"color":"#fff"},{"offset":0.505,"color":"#a6a6a6"},{"offset":0.52,"color":"#a6a6a6"},
{"offset":0.52,"color":"#fff"},{"offset":0.545,"color":"#fff"},{"offset":0.545,"color":"#a6a6a6"},{"offset":0.56,"color":"#a6a6a6"},
{"offset":0.56,"color":"#fff"},{"offset":0.585,"color":"#fff"},{"offset":0.585,"color":"#a6a6a6"},{"offset":0.6,"color":"#a6a6a6"},
{"offset":0.6,"color":"#fff"},{"offset":0.625,"color":"#fff"},{"offset":0.625,"color":"#a6a6a6"},{"offset":0.64,"color":"#a6a6a6"},
{"offset":0.64,"color":"#fff"},{"offset":0.665,"color":"#fff"},{"offset":0.665,"color":"#a6a6a6"},{"offset":0.68,"color":"#a6a6a6"},
{"offset":0.68,"color":"#fff"},{"offset":0.705,"color":"#fff"},{"offset":0.705,"color":"#a6a6a6"},{"offset":0.72,"color":"#a6a6a6"},
{"offset":0.72,"color":"#fff"},{"offset":0.745,"color":"#fff"},{"offset":0.745,"color":"#a6a6a6"},{"offset":0.76,"color":"#a6a6a6"},
{"offset":0.76,"color":"#fff"},{"offset":0.785,"color":"#fff"},{"offset":0.785,"color":"#a6a6a6"},{"offset":0.8,"color":"#a6a6a6"},
{"offset":0.8,"color":"#fff"},{"offset":0.825,"color":"#fff"},{"offset":0.825,"color":"#a6a6a6"},{"offset":0.84,"color":"#a6a6a6"},
{"offset":0.84,"color":"#fff"},{"offset":0.865,"color":"#fff"},{"offset":0.865,"color":"#a6a6a6"},{"offset":0.88,"color":"#a6a6a6"},
{"offset":0.88,"color":"#fff"},{"offset":0.905,"color":"#fff"},{"offset":0.905,"color":"#a6a6a6"},{"offset":0.92,"color":"#a6a6a6"},
{"offset":0.92,"color":"#fff"},{"offset":0.945,"color":"#fff"},{"offset":0.945,"color":"#a6a6a6"},{"offset":0.96,"color":"#a6a6a6"},
{"offset":0.96,"color":"#fff"},{"offset":0.985,"color":"#fff"},{"offset":0.985,"color":"#a6a6a6"},{"offset":1,"color":"#a6a6a6"}
]}}},
{"transform": [{"filter": "datum.category === 'Other'"}], "mark": {"type": "rect", "fill": "#000000"}},
{"transform": [{"filter": "datum.category === 'Finance and Credit'"}], "mark": {"type": "rule", "stroke": "#808080", "strokeWidth": 69.5, "strokeDash": [1.2, 2.5], "strokeCap": "butt"}},
{"transform": [{"filter": "datum.category === 'Transport'"}], "mark": {"type": "rule", "stroke": "#ffffff", "strokeWidth": 69.5, "strokeDash": [3.6, 3.6], "strokeCap": "butt"}},
{"transform": [{"filter": "datum.category === 'Services'"}], "mark": {"type": "rule", "stroke": "#a6a6a6", "strokeWidth": 69.5, "strokeDash": [1.1, 1.8], "strokeCap": "butt"}},
{"mark": {"type": "rect", "filled": false, "color": "#1a1a1a", "strokeWidth": 1.3}}
]
}
],
"config": {
 "view": {"stroke": "#1a1a1a", "strokeWidth": 1.2},
 "font": "Roboto Condensed, Liberation Sans Narrow, DejaVu Sans Condensed, Roboto, sans-serif",
 "text": {"font": "Roboto Condensed, Liberation Sans Narrow, DejaVu Sans Condensed, Roboto, sans-serif"},
 "axis": {"labelFont": "Roboto Condensed, Liberation Sans Narrow, DejaVu Sans Condensed, Roboto, sans-serif"}
}
}
